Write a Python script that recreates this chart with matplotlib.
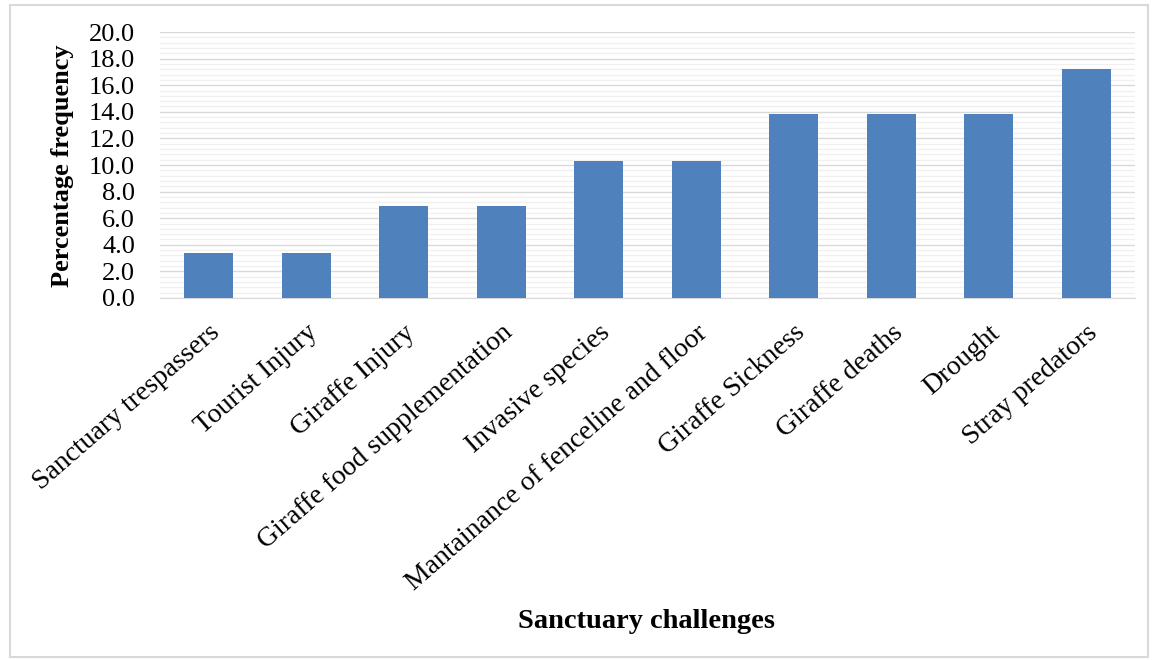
import matplotlib.pyplot as plt
from matplotlib.patches import Rectangle
from matplotlib.ticker import MultipleLocator

plt.rcParams['font.family'] = ['Liberation Serif', 'DejaVu Serif']

challenges = [
    "Sanctuary trespassers", "Tourist Injury", "Giraffe Injury",
    "Giraffe food supplementation", "Invasive species",
    "Mantainance of fenceline and floor", "Giraffe Sickness",
    "Giraffe deaths", "Drought", "Stray predators",
]
percent = [3.4, 3.4, 6.9, 6.9, 10.3, 10.3, 13.8, 13.8, 13.8, 17.2]
y_ticks = [0, 2, 4, 6, 8, 10, 12, 14, 16, 18, 20]

fig = plt.figure(figsize=(11.55, 6.6), dpi=100)
ax = fig.add_axes([160 / 1155, 1 - 298 / 660, 975 / 1155, 266 / 660])

x = range(len(challenges))
ax.bar(x, percent, width=0.5, color='#4f81bd', zorder=3)

ax.set_xlim(-0.5, len(challenges) - 0.5)
ax.set_ylim(0, 20)
ax.yaxis.set_minor_locator(MultipleLocator(0.4))
ax.set_yticks(y_ticks)
ax.set_yticklabels([f"{v:.1f}" for v in y_ticks], fontsize=19)
ax.grid(axis='y', which='major', color='#d9d9d9', linewidth=1, zorder=0)
ax.grid(axis='y', which='minor', color='#f0f0f0', linewidth=1, zorder=0)
ax.tick_params(axis='y', which='both', length=0, pad=18)
ax.tick_params(axis='x', length=0, pad=16)

ax.set_xticks(list(x))
ax.set_xticklabels(challenges, rotation=41, ha='right', va='top',
                   rotation_mode='anchor', fontsize=20)

for side in ['top', 'right', 'left']:
    ax.spines[side].set_visible(False)
ax.spines['bottom'].set_color('#d9d9d9')

fig.text(62 / 1155, 1 - 166 / 660, "Percentage frequency", fontsize=19,
         fontweight='bold', rotation=90, ha='center', va='center')
fig.text(647 / 1155, 1 - 622 / 660, "Sanctuary challenges", fontsize=20.5,
         fontweight='bold', ha='center', va='center')

# light frame around the whole chart
fig.patches.append(Rectangle((10 / 1155, 3 / 660), 1138 / 1155, 652 / 660,
                             transform=fig.transFigure, fill=False,
                             edgecolor='#d9d9d9', linewidth=1.5))

fig.savefig("out.png", dpi=100)
